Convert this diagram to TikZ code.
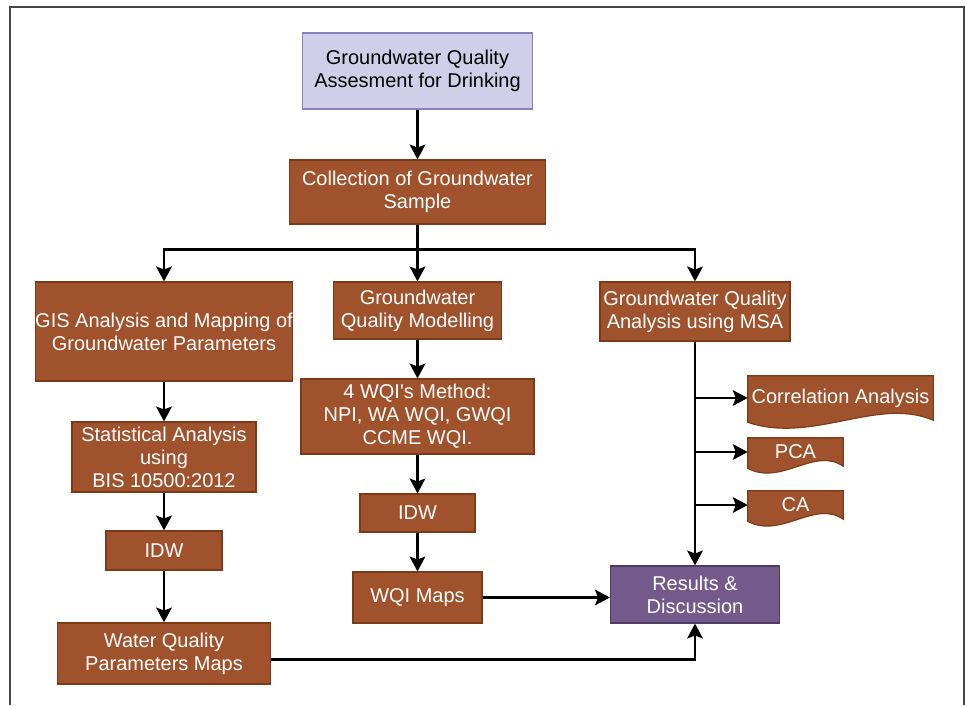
\documentclass[tikz,border=0pt]{standalone}
\usepackage{fontspec}
\setmainfont{Liberation Sans}
\usepackage{tikz}
\usetikzlibrary{calc,arrows.meta,backgrounds}

\definecolor{boxbrown}{RGB}{160,82,45}
\definecolor{edgebrown}{RGB}{125,58,24}
\definecolor{headfill}{RGB}{208,206,232}
\definecolor{headedge}{RGB}{135,128,185}
\definecolor{resfill}{RGB}{116,90,138}
\definecolor{resedge}{RGB}{78,58,98}
\definecolor{framegray}{RGB}{70,70,70}

\tikzset{
    proc/.style 2 args={rectangle, fill=boxbrown, draw=edgebrown, line width=0.8pt, text=white, align=center, inner sep=0pt, minimum width=#1, minimum height=#2},
    head/.style 2 args={proc={#1}{#2}, fill=headfill, draw=headedge, text=black},
    result/.style 2 args={proc={#1}{#2}, fill=resfill, draw=resedge},
    doc/.style 2 args={rectangle, text=white, align=center, inner sep=0pt, minimum width=#1, minimum height=#2},
    link/.style={line width=2pt},
    arr/.style={link, -{Stealth[length=10.5pt,width=11pt,inset=2pt]}}
}

\newcommand{\wavybottom}[2]{%
    \filldraw[fill=boxbrown, draw=edgebrown, line width=0.8pt] (#1.north west) -- (#1.north east) -- (#1.south east)
        .. controls ($(#1.south east)!0.3!(#1.south west)+(0,-#2)$) and ($(#1.south east)!0.65!(#1.south west)+(0,#2)$) .. ($(#1.south west)+(0,2)$) -- cycle;}

\begin{document}
\begin{tikzpicture}[x=0.025cm, y=-0.025cm, every node/.style={font=\fontsize{14.2}{16.4}\selectfont}]
        \useasboundingbox (0,0) rectangle (967,705);
        \draw[framegray, line width=1.5pt] (10,705) -- (10,7) -- (964,7) -- (964,705);

        \node (assess) [head={5.75cm}{1.9cm}] at (417.5,71) {Groundwater Quality\\Assesment for Drinking};
        \node (collect) [proc={6.4cm}{1.6cm}] at (417.5,192) {Collection of Groundwater\\Sample};
        \node (gis) [proc={6.375cm}{2.475cm}] at (164,331.5) {GIS Analysis and Mapping of\\Groundwater Parameters};
        \node (model) [proc={4.2cm}{1.425cm}] at (417.5,310.5) {Groundwater\\Quality Modelling};
        \node (msa) [proc={4.75cm}{1.475cm}] at (695,311.5) {Groundwater Quality\\Analysis using MSA};
        \node (stat) [proc={4.6cm}{1.75cm}] at (164,457) {Statistical Analysis\\using\\BIS 10500:2012};
        \node (wqi) [proc={5.825cm}{1.875cm}] at (417.5,416.5) {4 WQI\textquotesingle s Method:\\NPI, WA WQI, GWQI\\CCME WQI.};
        \node (idwgis) [proc={2.9cm}{0.975cm}] at (164,550.5) {IDW};
        \node (idwwqi) [proc={2.875cm}{0.95cm}] at (417.5,513) {IDW};
        \node (wqimaps) [proc={3.225cm}{1.275cm}] at (417.5,597.5) {WQI Maps};
        \node (parmaps) [proc={5.325cm}{1.525cm}] at (164,653.5) {Water Quality\\Parameters Maps};
        \node (results) [result={4.225cm}{1.425cm}] at (695,594.5) {Results \&\\Discussion};
        \node (corr) [doc={4.625cm}{1.1cm}] at (840.5,398) {Correlation Analysis};
        \node (pca) [doc={2.375cm}{0.7cm}] at (795.5,452) {PCA};
        \node (ca) [doc={2.375cm}{0.7cm}] at (795.5,505) {CA};

        \begin{scope}[on background layer]
            \wavybottom{corr}{24}
            \wavybottom{pca}{20}
            \wavybottom{ca}{20}
        \end{scope}

        \coordinate (split) at ($(collect.south)+(0,25)$);

        \draw[arr] (assess) -- (collect);
        \draw[link] (collect) -- (split);
        \draw[arr] (split) -| (gis);
        \draw[arr] (split) -- (model);
        \draw[arr] (split) -| (msa);
        \draw[arr] (gis) -- (stat);
        \draw[arr] (stat) -- (idwgis);
        \draw[arr] (idwgis) -- (parmaps);
        \draw[arr] (model) -- (wqi);
        \draw[arr] (wqi) -- (idwwqi);
        \draw[arr] (idwwqi) -- (wqimaps);
        \draw[arr] (wqimaps.east) -- (wqimaps.east -| results.west);
        \draw[arr] (msa) -- (results);
        \draw[arr] ([yshift=-4pt]parmaps.east) -| (results);
        \draw[arr] (corr.west -| msa.south) -- (corr.west);
        \draw[arr] (pca.west -| msa.south) -- (pca.west);
        \draw[arr] (ca.west -| msa.south) -- (ca.west);
    \end{tikzpicture}
\end{document}
